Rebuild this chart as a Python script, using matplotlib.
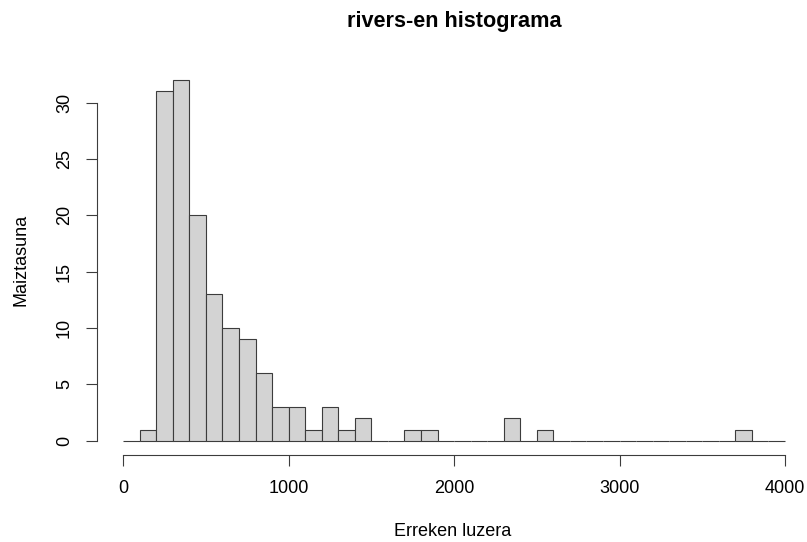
import numpy as np
import matplotlib.pyplot as plt

plt.rcParams['font.family'] = ['Liberation Sans', 'DejaVu Sans']

#%% Data (counts, 100-wide bins from 0 to 4000)
bin_edges = np.arange(0, 4001, 100)
counts = [0, 1, 31, 32, 20, 13, 10, 9, 6, 3,
          3, 1, 3, 1, 2, 0, 0, 1, 1, 0,
          0, 0, 0, 2, 0, 1, 0, 0, 0, 0,
          0, 0, 0, 0, 0, 0, 0, 1, 0, 0]
x_ticks = [0, 1000, 2000, 3000, 4000]
y_ticks = [0, 5, 10, 15, 20, 25, 30]

#%% Plot
W, H = 807, 542
fig = plt.figure(figsize=(W / 100, H / 100), dpi=100)
left, right, top, bottom = 96.7, 811.5, 65.7, 455.2
ax = fig.add_axes([left / W, 1 - bottom / H, (right - left) / W, (bottom - top) / H])

ax.bar(bin_edges[:-1], counts, width=np.diff(bin_edges), align='edge',
       color='#D3D3D3', edgecolor='#3c3c3c', linewidth=0.8)

ax.set_xlim(-160, 4160)
ax.set_ylim(-1.28, 33.28)

for s in ['top', 'right']:
    ax.spines[s].set_visible(False)
ax.spines['left'].set_bounds(0, 30)
ax.spines['bottom'].set_bounds(0, 4000)
for s in ['left', 'bottom']:
    ax.spines[s].set_color('#3c3c3c')
    ax.spines[s].set_linewidth(0.8)

ax.set_xticks(x_ticks)
ax.set_yticks(y_ticks)
ax.tick_params(axis='both', direction='out', length=8, width=0.8,
               color='#3c3c3c', labelsize=13)
ax.tick_params(axis='x', pad=10)
ax.tick_params(axis='y', pad=9, labelrotation=90)
for lab in ax.get_yticklabels():
    lab.set_va('center')

ax.set_xlabel('Erreken luzera', fontsize=13)
ax.set_ylabel('Maiztasuna', fontsize=13)
ax.xaxis.set_label_coords(453 / W, 1 - 531 / H, transform=fig.transFigure)
ax.xaxis.label.set_va('center')
ax.yaxis.set_label_coords(21 / W, 1 - 260 / H, transform=fig.transFigure)
ax.yaxis.label.set_va('center')
fig.text((left + right) / 2 / W, 1 - 22 / H, 'rivers-en histograma',
         ha='center', va='center', fontsize=15.6, fontweight='bold')

fig.savefig('out.png', dpi=100)
